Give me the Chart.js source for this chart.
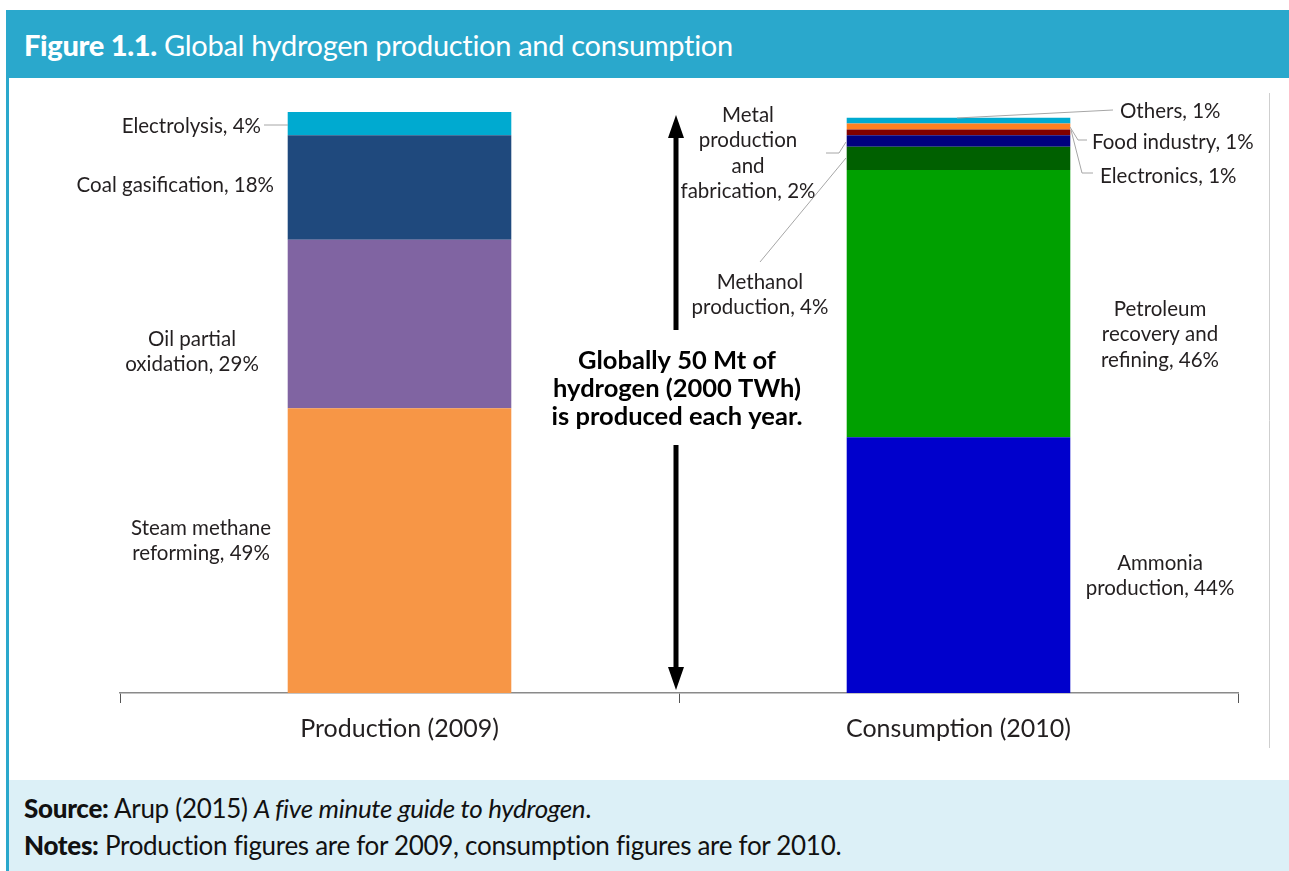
<!DOCTYPE html>
<html>
<head>
<meta charset="utf-8">
<script src="https://cdn.jsdelivr.net/npm/chart.js@4"></script>
<style>
  html, body { margin:0; padding:0; background:#fff; width:1289px; height:871px; overflow:hidden; font-family:'Lato', sans-serif; }
  #frameLeft { position:absolute; left:6px; top:10px; width:3px; height:861px; background:#2aa8cc; }
  #header { position:absolute; left:6px; top:10px; width:1283px; height:68px; background:#2aa8cc; color:#fff; }
  #header .t { position:absolute; left:18px; top:17px; font-size:29px; line-height:35px; white-space:nowrap; letter-spacing:-0.3px; }
  #header b { font-weight:900; }
  #footer { position:absolute; left:9px; top:780px; width:1280px; height:91px; background:#dcf0f7; color:#111; font-size:26px; line-height:31px; }
  #footer .l { position:absolute; left:15px; white-space:nowrap; letter-spacing:-0.3px; }
  #footer b { font-weight:900; }
  #c { position:absolute; left:0; top:0; z-index:2; }
</style>
</head>
<body>
<div id="frameLeft"></div>
<div id="header"><div class="t"><b>Figure 1.1.</b> Global hydrogen production and consumption</div></div>
<div id="footer">
  <div class="l" style="top:13px"><b>Source:</b> Arup (2015) <i>A five minute guide to hydrogen</i>.</div>
  <div class="l" style="top:50px"><b>Notes:</b> Production figures are for 2009, consumption figures are for 2010.</div>
</div>
<canvas id="c" width="1289" height="871"></canvas>
<script>
// ---- data ----
const categories = ['Production (2009)', 'Consumption (2010)'];
const productionNames  = ['Steam methane reforming', 'Oil partial oxidation', 'Coal gasification', 'Electrolysis'];
const productionValues = [49, 29, 18, 4];
const consumptionNames  = ['Ammonia production', 'Petroleum recovery and refining', 'Methanol production', 'Metal production and fabrication', 'Electronics', 'Food industry', 'Others'];
const consumptionValues = [44, 46, 4, 2, 1, 1, 1];
const yTicks = [0, 100];

// ---- styles ----
const productionColors  = ['#f79646', '#8064a2', '#1f497d', '#00aad0'];
const consumptionColors = ['#0000cc', '#00a000', '#006000', '#000080', '#800000', '#ff8020', '#00aad0'];
const TEXT = '#231f20';
const FONT = 'Lato, sans-serif';

const datasets = [];
productionNames.forEach((n, i) => datasets.push({ label: n, data: [productionValues[i], null], backgroundColor: productionColors[i], stack: 's' }));
consumptionNames.forEach((n, i) => datasets.push({ label: n, data: [null, consumptionValues[i]], backgroundColor: consumptionColors[i], stack: 's' }));

// annotation layout (page pixels)
const labelLayout = [
  { lines: ['Electrolysis, 4%'], x: 261, y: 126, align: 'right', leader: [[264,125],[288,125]] },
  { lines: ['Coal gasification, 18%'], x: 274, y: 185, align: 'right' },
  { lines: ['Oil partial', 'oxidation, 29%'], x: 192, y: 339, align: 'center' },
  { lines: ['Steam methane', 'reforming, 49%'], x: 201, y: 528, align: 'center' },
  { lines: ['Metal', 'production', 'and', 'fabrication, 2%'], x: 748, y: 115, align: 'center', leader: [[826,153],[839,153],[846,142]] },
  { lines: ['Methanol', 'production, 4%'], x: 760, y: 282, align: 'center', leader: [[760,262],[846,158]] },
  { lines: ['Others, 1%'], x: 1120, y: 111, align: 'left', leader: [[957,118],[1113,110]] },
  { lines: ['Food industry, 1%'], x: 1092, y: 142, align: 'left', leader: [[1070,127],[1078,140],[1087,140]] },
  { lines: ['Electronics, 1%'], x: 1100, y: 176, align: 'left', leader: [[1071,130],[1082,173],[1093,173]] },
  { lines: ['Petroleum', 'recovery and', 'refining, 46%'], x: 1160, y: 309, align: 'center' },
  { lines: ['Ammonia', 'production, 44%'], x: 1160, y: 563, align: 'center' }
];
const centerText = ['Globally 50 Mt of', 'hydrogen (2000 TWh)', 'is produced each year.'];
const centerTextY = [361, 389, 417];

const annot = {
  id: 'annot',
  afterDatasetsDraw(chart) {
    const ctx = chart.ctx;
    const xs = chart.scales.x, ys = chart.scales.y;
    ctx.save();
    // right frame line
    ctx.strokeStyle = '#cfcfcf'; ctx.lineWidth = 1;
    ctx.beginPath(); ctx.moveTo(1269.5, 93); ctx.lineTo(1269.5, 748); ctx.stroke();
    // leaders
    ctx.strokeStyle = '#a6a6a6'; ctx.lineWidth = 1;
    labelLayout.forEach(l => {
      if (!l.leader) return;
      ctx.beginPath();
      l.leader.forEach((p, i) => i ? ctx.lineTo(p[0], p[1]) : ctx.moveTo(p[0], p[1]));
      ctx.stroke();
    });
    // labels
    ctx.fillStyle = TEXT;
    ctx.font = '20.5px ' + FONT;
    ctx.textBaseline = 'middle';
    labelLayout.forEach(l => {
      ctx.textAlign = l.align;
      l.lines.forEach((t, i) => ctx.fillText(t, l.x, l.y + i * 25.5));
    });
    // double arrow between categories
    const ax = (xs.getPixelForValue(0) + xs.getPixelForValue(1)) / 2 - 3;
    const yTop = ys.getPixelForValue(yTicks[1]) + 3;
    const yBot = ys.getPixelForValue(yTicks[0]) - 3;
    ctx.strokeStyle = '#000'; ctx.fillStyle = '#000'; ctx.lineWidth = 5;
    ctx.beginPath(); ctx.moveTo(ax, yTop + 20); ctx.lineTo(ax, 330); ctx.stroke();
    ctx.beginPath(); ctx.moveTo(ax, 445); ctx.lineTo(ax, yBot - 20); ctx.stroke();
    ctx.beginPath(); ctx.moveTo(ax, yTop); ctx.lineTo(ax - 8, yTop + 23); ctx.lineTo(ax + 8, yTop + 23); ctx.closePath(); ctx.fill();
    ctx.beginPath(); ctx.moveTo(ax, yBot); ctx.lineTo(ax - 8, yBot - 23); ctx.lineTo(ax + 8, yBot - 23); ctx.closePath(); ctx.fill();
    // center text
    ctx.fillStyle = '#000';
    ctx.font = 'bold 25.5px ' + FONT;
    ctx.textAlign = 'center';
    centerText.forEach((t, i) => ctx.fillText(t, ax + 1, centerTextY[i]));
    ctx.restore();
  }
};

new Chart(document.getElementById('c'), {
  type: 'bar',
  data: { labels: categories, datasets },
  options: {
    responsive: false,
    animation: false,
    layout: { padding: { left: 120, right: 51, top: 112, bottom: 0 } },
    plugins: { legend: { display: false }, tooltip: { enabled: false } },
    datasets: { bar: { barPercentage: 1, categoryPercentage: 0.4, borderWidth: 0 } },
    scales: {
      x: {
        stacked: true,
        offset: true,
        afterFit: s => { s.height = 178; },
        border: { display: true, color: '#8a8a8a', width: 1.5 },
        grid: { display: true, drawOnChartArea: false, drawTicks: true, tickLength: 10, color: '#555', offset: true, lineWidth: 1 },
        ticks: { color: TEXT, font: { family: FONT, size: 25 }, padding: 11, maxRotation: 0 }
      },
      y: { stacked: true, display: false, min: yTicks[0], max: yTicks[1] }
    }
  },
  plugins: [annot]
});
</script>
</body>
</html>
